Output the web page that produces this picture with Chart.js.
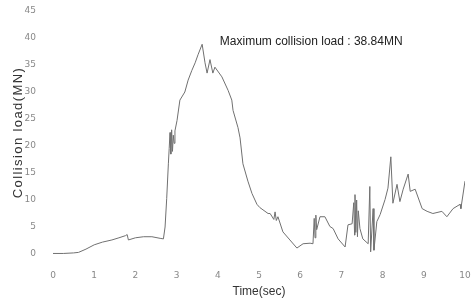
<!DOCTYPE html>
<html>
<head>
<meta charset="utf-8">
<script src="https://cdn.jsdelivr.net/npm/chart.js@4/dist/chart.umd.min.js"></script>
<style>
  html, body { margin: 0; padding: 0; background: #fff; }
  #wrap { width: 474px; height: 303px; }
</style>
</head>
<body>
<div id="wrap"><canvas id="myChart" width="474" height="303"></canvas></div>
<script>
// time (sec)
var times = [0.00, 0.25, 0.50, 0.62, 0.80, 1.00, 1.20, 1.43, 1.60, 1.76, 1.80, 1.83, 2.00, 2.20, 2.40, 2.60, 2.68,
    2.72, 2.76, 2.80, 2.82, 2.84, 2.86, 2.88, 2.90, 2.92, 2.94, 2.96, 3.01, 3.08, 3.20, 3.28, 3.37, 3.45, 3.52,
    3.62, 3.69, 3.74, 3.81, 3.88, 3.93, 4.10, 4.25, 4.34, 4.37, 4.49, 4.54, 4.61, 4.73, 4.83, 4.95, 5.02, 5.22,
    5.27, 5.36, 5.39, 5.42, 5.46, 5.58, 5.75, 5.92, 6.07, 6.24, 6.31, 6.34, 6.36, 6.38, 6.40, 6.48, 6.60, 6.72,
    6.80, 6.92, 7.09, 7.16, 7.26, 7.30, 7.32, 7.33, 7.35, 7.37, 7.39, 7.41, 7.45, 7.52, 7.65, 7.69, 7.71, 7.77,
    7.79, 7.86, 7.94, 8.06, 8.13, 8.20, 8.25, 8.35, 8.42, 8.50, 8.62, 8.67, 8.79, 8.96, 9.08, 9.22, 9.44, 9.56,
    9.71, 9.88, 9.90, 10.00];
// collision load (MN)
var loads = [0.1, 0.1, 0.2, 0.3, 0.9, 1.7, 2.2, 2.6, 3.0, 3.4, 3.6, 2.6, 3.0, 3.2, 3.2, 2.9, 2.8,
    5.0, 10.3, 16.7, 19.5, 22.5, 18.5, 23.0, 19.0, 22.0, 20.5, 22.8, 24.7, 28.5, 30.0, 32.2, 34.0, 35.4, 36.9,
    38.84, 35.4, 33.5, 36.0, 33.5, 34.6, 32.8, 30.3, 28.5, 26.6, 23.4, 21.5, 16.7, 13.5, 11.2, 9.2, 8.6, 7.5,
    7.5, 6.4, 7.8, 6.2, 6.9, 4.1, 2.6, 1.1, 1.9, 2.0, 1.9, 6.6, 3.0, 7.2, 4.5, 6.9, 6.9, 5.1,
    4.7, 2.8, 1.3, 5.4, 5.6, 9.5, 3.5, 11.0, 4.0, 10.0, 3.2, 8.0, 4.7, 2.8, 1.9, 12.5, 0.4, 8.4,
    0.7, 6.0, 7.3, 10.1, 12.2, 18.0, 9.4, 12.9, 9.7, 12.0, 14.8, 11.6, 12.0, 8.4, 7.9, 7.5, 7.9, 6.9,
    8.4, 9.2, 8.4, 13.5];
var yTicks = [0, 5, 10, 15, 20, 25, 30, 35, 40, 45];
var xTicks = [0, 1, 2, 3, 4, 5, 6, 7, 8, 9, 10];
var noteText = 'Maximum collision load : 38.84MN';
var yTitle = 'Collision load(MN)';

document.addEventListener('DOMContentLoaded', function () {
    var points = times.map(function (t, i) { return { x: t, y: loads[i] }; });

    // annotation + the stretched-looking y title
    var notePlugin = {
        id: 'note',
        afterDatasetsDraw: function (chart) {
            var c = chart.ctx;
            var area = chart.chartArea;
            c.save();
            c.font = '12px "Liberation Sans", Arial, sans-serif';
            c.fillStyle = '#222';
            c.textBaseline = 'middle';
            c.fillText(noteText, chart.scales.x.getPixelForValue(4.05), chart.scales.y.getPixelForValue(39.4));

            c.translate(18, (area.top + area.bottom) / 2);
            c.rotate(-Math.PI / 2);
            c.font = '13px "Liberation Sans", Arial, sans-serif';
            c.letterSpacing = '1.4px';
            c.fillStyle = '#333';
            c.textAlign = 'center';
            c.fillText(yTitle, 0, 0);
            c.restore();
        }
    };

    var ctx = document.getElementById('myChart').getContext('2d');
    var myChart = new Chart(ctx, {
        type: 'line',
        data: {
            datasets: [{
                data: points,
                borderColor: '#707070',
                borderWidth: 1,
                pointRadius: 0,
                tension: 0,
                fill: false
            }]
        },
        options: {
            responsive: false,
            animation: false,
            layout: { padding: { top: 0, right: 4, left: 0, bottom: 4 } },
            plugins: { legend: { display: false }, tooltip: { enabled: false } },
            scales: {
                x: {
                    type: 'linear',
                    min: 0,
                    max: 10,
                    grid: { display: false },
                    border: { display: false },
                    afterBuildTicks: function (scale) {
                        scale.ticks = xTicks.map(function (v) { return { value: v }; });
                    },
                    ticks: {
                        color: '#888',
                        font: { size: 9, family: 'DejaVu Sans' },
                        padding: 8,
                        maxRotation: 0
                    },
                    title: {
                        display: true,
                        text: 'Time(sec)',
                        color: '#333',
                        font: { size: 12, family: 'Liberation Sans' },
                        padding: { top: 0, bottom: 0 }
                    },
                    afterFit: function (scale) {
                        scale.height = 45;
                        scale.paddingRight = 9;
                    }
                },
                y: {
                    min: 0,
                    max: 45,
                    grid: { display: false },
                    border: { display: false },
                    afterBuildTicks: function (scale) {
                        scale.ticks = yTicks.map(function (v) { return { value: v }; });
                    },
                    ticks: {
                        color: '#888',
                        font: { size: 9, family: 'DejaVu Sans' },
                        padding: 9
                    },
                    afterFit: function (scale) {
                        scale.width = 53;
                        scale.paddingTop = 11;
                    }
                }
            }
        },
        plugins: [notePlugin]
    });
});
</script>
</body>
</html>
